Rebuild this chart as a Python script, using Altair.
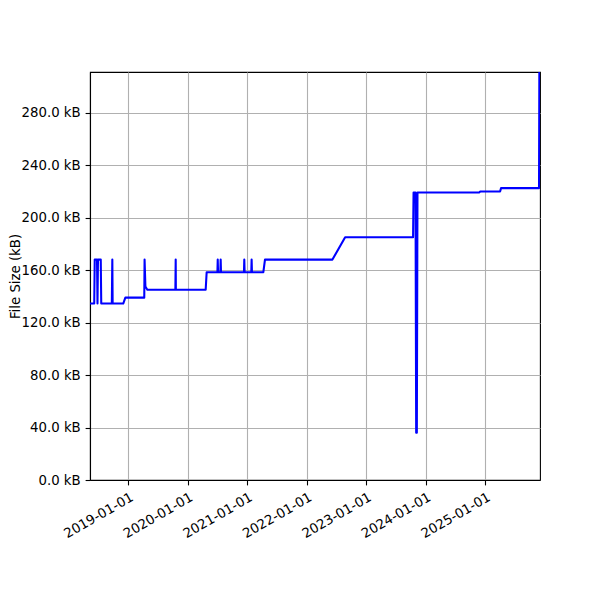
import altair as alt
import pandas as pd

dates = [
    "2018-05-11", "2018-06-06", "2018-06-09", "2018-06-23", "2018-06-26",
    "2018-06-29", "2018-07-16", "2018-07-19",
    "2018-09-22", "2018-09-25", "2018-09-27",
    "2018-12-01", "2018-12-14",
    "2019-04-09", "2019-04-11", "2019-04-16", "2019-04-28",
    "2019-10-17", "2019-10-19", "2019-10-20",
    "2020-04-20", "2020-04-26",
    "2020-07-01", "2020-07-03", "2020-07-05",
    "2020-07-19", "2020-07-21", "2020-07-23",
    "2020-12-11", "2020-12-13", "2020-12-15",
    "2021-01-25", "2021-01-27", "2021-01-29",
    "2021-04-09", "2021-04-19",
    "2022-06-07", "2022-08-24",
    "2023-10-15", "2023-10-18", "2023-10-30", "2023-11-03", "2023-11-07", "2023-11-11",
    "2024-11-25", "2024-11-29",
    "2025-04-01", "2025-04-07",
    "2025-11-26", "2025-11-28",
]
sizes_kb = [
    134.5, 134.5, 168.0, 168.0, 134.5,
    168.0, 168.0, 134.5,
    134.5, 168.0, 134.5,
    134.5, 139.0,
    139.0, 168.0, 147.5, 145.0,
    145.0, 168.0, 145.0,
    145.0, 158.4,
    158.4, 168.0, 158.4,
    158.4, 168.0, 158.4,
    158.4, 168.0, 158.4,
    158.4, 168.0, 158.4,
    158.4, 168.0,
    168.0, 185.1,
    185.1, 219.2, 219.2, 36.0, 36.0, 219.2,
    219.2, 219.9,
    219.9, 222.5,
    222.5, 311.0,
]
year_ticks = [2019, 2020, 2021, 2022, 2023, 2024, 2025]
y_ticks = [0, 40, 80, 120, 160, 200, 240, 280]

df = pd.DataFrame({"date": dates, "size": sizes_kb})

FONT = "DejaVu Sans"

chart = alt.Chart(df).mark_line(
    color="#0000ff", strokeWidth=2.08, strokeJoin="round", clip=True
).encode(
    x=alt.X(
        "date:T",
        scale=alt.Scale(
            type="utc",
            domain=[alt.DateTime(year=2018, month=5, date=11, utc=True),
                    alt.DateTime(year=2025, month=12, date=2, utc=True)],
        ),
        axis=alt.Axis(
            title=None,
            values=[alt.DateTime(year=y, month=1, date=1, utc=True) for y in year_ticks],
            format="%Y-%m-%d",
            labelAngle=-30,
            labelAlign="right",
            labelBaseline="top",
        ),
    ),
    y=alt.Y(
        "size:Q",
        scale=alt.Scale(domain=[0, 311], nice=False, zero=True),
        axis=alt.Axis(
            title="File Size (kB)",
            values=y_ticks,
            labelExpr="format(datum.value, '.1f') + ' kB'",
            titlePadding=-1,
        ),
    ),
    order="date:T",
).properties(
    width=450,
    height=408,
    background="white",
    autosize=alt.AutoSizeParams(type="none"),
    padding={"left": 82, "top": 64, "right": 52, "bottom": 112},
).configure_view(
    stroke="black", strokeWidth=1.1
).configure_axis(
    labelFont=FONT, titleFont=FONT, labelFontSize=13.3, titleFontSize=13.3,
    titleFontWeight="normal", labelColor="black", titleColor="black",
    domainColor="black", domainWidth=1.1, tickColor="black", tickWidth=1.1,
    tickSize=4.9, labelPadding=4.9, grid=True, gridColor="#b0b0b0", gridWidth=1.1,
    gridOpacity=1, labelOverlap=False, labelFlush=False,
)

chart.save("out.html", embed_options={"renderer": "svg", "actions": False})
